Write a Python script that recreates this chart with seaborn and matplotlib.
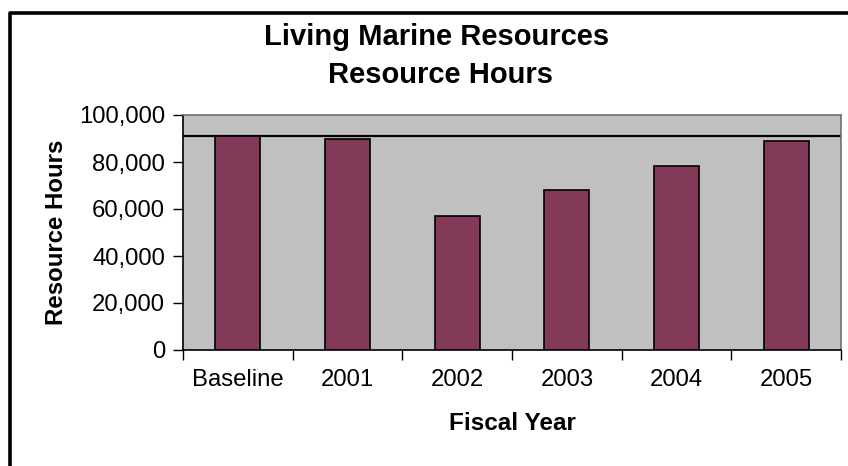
import matplotlib
matplotlib.use("Agg")
import matplotlib.pyplot as plt
from matplotlib.lines import Line2D
from matplotlib.ticker import FuncFormatter, FixedLocator
import seaborn as sns
import pandas as pd

# Resource hours by fiscal year
years = ["Baseline", "2001", "2002", "2003", "2004", "2005"]
hours = [91000, 90000, 57000, 68000, 78500, 89000]
y_ticks = [0, 20000, 40000, 60000, 80000, 100000]

title_lines = ["Living Marine Resources", "Resource Hours"]
x_title = "Fiscal Year"
y_title = "Resource Hours"

plt.rcParams["font.family"] = ["Liberation Sans", "DejaVu Sans"]

df = pd.DataFrame({"year": years, "hours": hours})

W, H = 848, 466
fig = plt.figure(figsize=(W / 100, H / 100), dpi=100)
fig.patch.set_facecolor("white")

# page frame: left and top edges
frame = Line2D([10 / W, 10 / W, 1.01], [-0.01, 1 - 13 / H, 1 - 13 / H],
               transform=fig.transFigure, color="black", linewidth=2.6,
               solid_joinstyle="round")
fig.lines.append(frame)

left, right, top, bottom = 183, 841, 115, 350
ax = fig.add_axes([left / W, 1 - bottom / H, (right - left) / W, (bottom - top) / H])
ax.set_facecolor("#c0c0c0")

sns.barplot(data=df, x="year", y="hours", ax=ax, color="#833a58",
            saturation=1, width=0.41, edgecolor="black", linewidth=1.2, zorder=3)

# baseline reference level
ax.axhline(hours[0], color="black", linewidth=1.6, zorder=2)

ax.set_ylim(0, 100000)
ax.set_xlim(-0.5, len(years) - 0.5)
ax.yaxis.set_major_locator(FixedLocator(y_ticks))
ax.yaxis.set_major_formatter(FuncFormatter(lambda v, p: f"{int(v):,}"))

ax.tick_params(axis="y", direction="out", length=7, width=1, pad=6,
               labelsize=17.2, colors="black")
ax.tick_params(axis="x", which="major", length=0, pad=14, labelsize=17.2)
ax.set_xticks([i - 0.5 for i in range(len(years) + 1)], minor=True)
ax.tick_params(axis="x", which="minor", direction="out", length=7, width=1)

for s in ("left", "bottom"):
    ax.spines[s].set_color("black")
    ax.spines[s].set_linewidth(1.2)
for s in ("top", "right"):
    ax.spines[s].set_color("#6f6f6f")
    ax.spines[s].set_linewidth(1.2)

ax.set_xlabel(x_title, fontsize=17.5, fontweight="bold")
ax.set_ylabel(y_title, fontsize=17.3, fontweight="bold")
ax.xaxis.set_label_coords(0.5, -(424 - bottom) / (bottom - top))
ax.yaxis.set_label_coords(-(left - 57) / (right - left), 0.5)
ax.xaxis.label.set_va("center")
ax.yaxis.label.set_va("center")

fig.text(437 / W, 1 - 45 / H, title_lines[0], ha="center", va="baseline",
         fontsize=21, fontweight="bold")
fig.text(440 / W, 1 - 83 / H, title_lines[1], ha="center", va="baseline",
         fontsize=21, fontweight="bold")

fig.savefig("out.png", dpi=100)
